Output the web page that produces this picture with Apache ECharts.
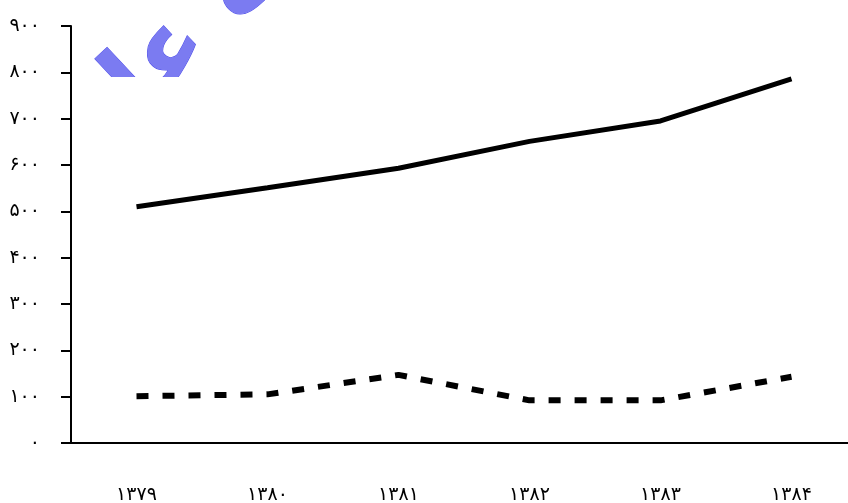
<!DOCTYPE html>
<html><head><meta charset="utf-8">
<script src="https://cdn.jsdelivr.net/npm/echarts@6/dist/echarts.min.js"></script>
<style>html,body{margin:0;padding:0;background:#fff}#c{width:848px;height:503px}</style>
</head><body><div id="c"></div>
<script>
const categories = ['۱۳۷۹','۱۳۸۰','۱۳۸۱','۱۳۸۲','۱۳۸۳','۱۳۸۴'];
const solidSeries = [510, 551, 593, 651, 695, 786];
const dashedSeries = [101, 105, 147, 92, 92, 143];
const yTickLabels = ['۰','۱۰۰','۲۰۰','۳۰۰','۴۰۰','۵۰۰','۶۰۰','۷۰۰','۸۰۰','۹۰۰'];
const watermarkText = 'مقالات علمی';

const chart = echarts.init(document.getElementById('c'), null, {renderer:'canvas'});
chart.setOption({
  backgroundColor: '#fff',
  animation: false,
  grid: {left: 71, top: 26, width: 786, height: 417, outerBoundsMode: 'none', containLabel: false},
  xAxis: {
    type: 'category', data: categories, boundaryGap: true, z: 5,
    axisLine: {lineStyle: {color: '#000', width: 2}},
    axisTick: {length: 12, lineStyle: {color: '#000', width: 2}, alignWithLabel: false},
    axisLabel: {margin: 43, fontFamily: 'DejaVu Sans', fontSize: 19, color: '#000', verticalAlign: 'top'},
    splitLine: {show: false}
  },
  yAxis: {
    type: 'value', min: 0, max: 900, interval: 100, z: 5,
    axisLine: {show: true, lineStyle: {color: '#000', width: 2}},
    axisTick: {show: true, length: 10, lineStyle: {color: '#000', width: 2}},
    axisLabel: {margin: 31, fontFamily: 'DejaVu Sans', fontSize: 19, color: '#000',
      formatter: v => yTickLabels[Math.round(v/100)]},
    splitLine: {show: false}
  },
  graphic: [
    {type: 'text', z: 0, x: -30, y: 175, rotation: 0.75,
      style: {text: watermarkText, font: 'bold 95px "DejaVu Sans"', fill: '#7b7bf1', stroke: '#5050ea', lineWidth: 1}},
    {type: 'rect', z: 1, shape: {x: 0, y: 77, width: 848, height: 426}, style: {fill: '#fff'}}
  ],
  series: [
    {type: 'line', data: solidSeries, symbol: 'none', z: 10,
      lineStyle: {color: '#000', width: 5}},
    {type: 'line', data: dashedSeries, symbol: 'none', z: 10,
      lineStyle: {color: '#000', width: 6, type: [12, 14], cap: 'butt'}}
  ]
});
</script></body></html>
